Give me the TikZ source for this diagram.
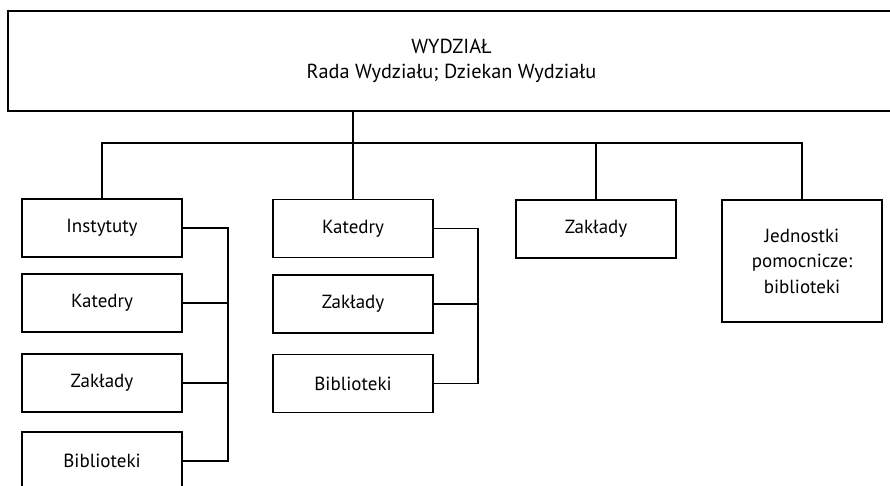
\documentclass[tikz,border=0pt]{standalone}
\usepackage{fontspec}
\setmainfont{PT Sans}
\begin{document}
\begin{tikzpicture}[x=1pt,y=-1pt,
  unit/.style={draw,line width=1.5pt,minimum width=160pt,minimum height=58pt,
    inner sep=0pt,align=center,font=\fontsize{19}{25.5}\selectfont},
  link/.style={line width=1.4pt}]
\useasboundingbox (0,0) rectangle (890,486);
\clip (0,0) rectangle (890,486);

% faculty header
\node[unit,minimum width=887pt,minimum height=100pt,
  font=\fontsize{20.3}{25.5}\selectfont] (top) at (451.5,61)
  {WYDZIAŁ\\Rada Wydziału; Dziekan Wydziału};

% first column
\node[unit] (i1) at (102,228) {Instytuty};
\node[unit] (i2) at (102,303) {Katedry};
\node[unit] (i3) at (102,383) {Zakłady};
\node[unit] (i4) at (102,461) {Biblioteki};

% second column
\node[unit] (k1) at (353,228.5) {Katedry};
\node[unit] (k2) at (353,304) {Zakłady};
\node[unit] (k3) at (353,383.5) {Biblioteki};

% third and fourth column
\node[unit] (z1) at (596,229) {Zakłady};
\node[unit,minimum height=122pt] (j1) at (802,261)
  {Jednostki\\pomocnicze:\\biblioteki};

% tree from the header
\coordinate (bus) at (0,143);
\coordinate (s1) at (228,0);
\coordinate (s2) at (478,0);
\draw[link] (k1.north |- top.south) -- (k1.north);
\draw[link] (i1.north) -- (i1.north |- bus) -- (j1.north |- bus) -- (j1.north);
\draw[link] (z1.north) -- (z1.north |- bus);

% side spines
\draw[link] (i1.east) -- (i1.east -| s1) -- (i4.east -| s1) -- (i4.east);
\draw[link] (i2.east) -- (i2.east -| s1);
\draw[link] (i3.east) -- (i3.east -| s1);
\draw[link] (k1.east) -- (k1.east -| s2) -- (k3.east -| s2) -- (k3.east);
\draw[link] (k2.east) -- (k2.east -| s2);
\end{tikzpicture}
\end{document}
